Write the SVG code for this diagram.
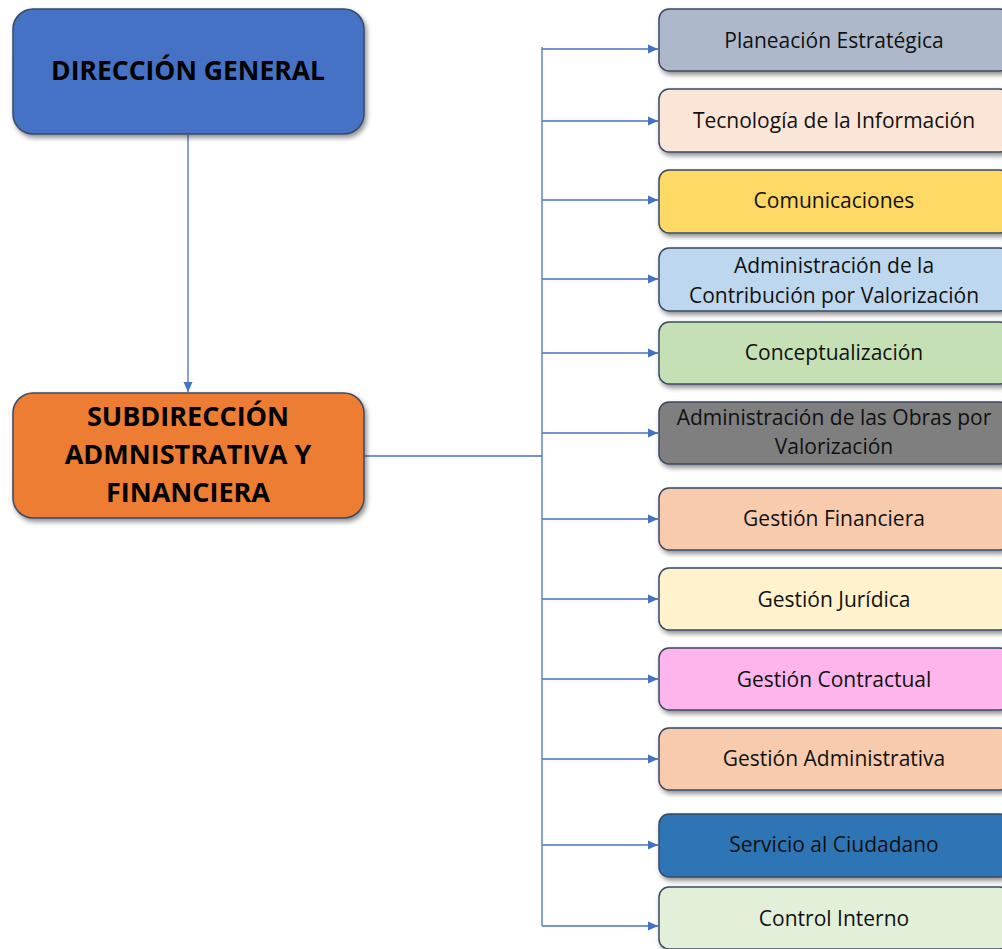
<svg xmlns="http://www.w3.org/2000/svg" width="1002" height="949" viewBox="0 0 1002 949">
<defs>
<filter id="sh" x="-10%" y="-20%" width="130%" height="150%">
<feDropShadow dx="2" dy="3" stdDeviation="2.5" flood-color="#000" flood-opacity="0.45"/>
</filter>
<marker id="ar" markerWidth="11" markerHeight="11" refX="10" refY="5.5" orient="auto" markerUnits="userSpaceOnUse">
<path d="M0,1 L10,5.5 L0,10 Z" fill="#4472C4"/>
</marker>
</defs>
<style>
.bx{stroke:#3A4A63;stroke-width:1.5;filter:url(#sh)}
.t{font-family:"Open Sans","Noto Sans",sans-serif;font-size:21px;fill:#111;text-anchor:middle}
.tb{font-family:"Open Sans","Noto Sans",sans-serif;font-size:27px;font-weight:bold;fill:#000;text-anchor:middle}
.c{stroke:#4472C4;stroke-width:1.3;fill:none}
</style>
<g id="connectors">
<line class="c" x1="188" y1="135" x2="188" y2="392" marker-end="url(#ar)"/>
<line class="c" x1="365" y1="456" x2="542" y2="456"/>
<line class="c" x1="542" y1="47" x2="542" y2="926"/>
<line class="c" x1="542" y1="49" x2="658" y2="49" marker-end="url(#ar)"/>
<line class="c" x1="542" y1="121" x2="658" y2="121" marker-end="url(#ar)"/>
<line class="c" x1="542" y1="200" x2="658" y2="200" marker-end="url(#ar)"/>
<line class="c" x1="542" y1="279" x2="658" y2="279" marker-end="url(#ar)"/>
<line class="c" x1="542" y1="353" x2="658" y2="353" marker-end="url(#ar)"/>
<line class="c" x1="542" y1="433" x2="658" y2="433" marker-end="url(#ar)"/>
<line class="c" x1="542" y1="519" x2="658" y2="519" marker-end="url(#ar)"/>
<line class="c" x1="542" y1="599" x2="658" y2="599" marker-end="url(#ar)"/>
<line class="c" x1="542" y1="679" x2="658" y2="679" marker-end="url(#ar)"/>
<line class="c" x1="542" y1="759" x2="658" y2="759" marker-end="url(#ar)"/>
<line class="c" x1="542" y1="845" x2="658" y2="845" marker-end="url(#ar)"/>
<line class="c" x1="542" y1="926" x2="658" y2="926" marker-end="url(#ar)"/>
</g>
<g id="direccion-general">
<rect class="bx" x="13" y="9" width="351" height="125" rx="20" fill="#4472C4"/>
<text class="tb" x="188" y="80" style="font-size:26.5px">DIRECCIÓN GENERAL</text>
</g>
<g id="subdireccion">
<rect class="bx" x="13" y="393" width="351" height="125" rx="20" fill="#ED7D31"/>
<text class="tb" x="188" y="426">SUBDIRECCIÓN</text>
<text class="tb" x="188" y="464">ADMNISTRATIVA Y</text>
<text class="tb" x="188" y="502">FINANCIERA</text>
</g>
<g id="planeacion">
<rect class="bx" x="659" y="9" width="351" height="62" rx="10" fill="#ADB9CA"/>
<text class="t" x="834" y="48">Planeación Estratégica</text>
</g>
<g id="tecnologia">
<rect class="bx" x="659" y="89" width="351" height="63" rx="10" fill="#FBE5D6"/>
<text class="t" x="834" y="128">Tecnología de la Información</text>
</g>
<g id="comunicaciones">
<rect class="bx" x="659" y="170" width="351" height="63" rx="10" fill="#FFD966"/>
<text class="t" x="834" y="208">Comunicaciones</text>
</g>
<g id="contribucion">
<rect class="bx" x="659" y="248" width="351" height="63" rx="10" fill="#BDD7EE"/>
<text class="t" x="834" y="273">Administración de la</text>
<text class="t" x="834" y="303">Contribución por Valorización</text>
</g>
<g id="conceptualizacion">
<rect class="bx" x="659" y="322" width="351" height="62" rx="10" fill="#C5E0B4"/>
<text class="t" x="834" y="360">Conceptualización</text>
</g>
<g id="obras">
<rect class="bx" x="659" y="402" width="351" height="62" rx="10" fill="#7F7F7F"/>
<text class="t" x="834" y="425">Administración de las Obras por</text>
<text class="t" x="834" y="454">Valorización</text>
</g>
<g id="financiera">
<rect class="bx" x="659" y="488" width="351" height="62" rx="10" fill="#F8CBAD"/>
<text class="t" x="834" y="526">Gestión Financiera</text>
</g>
<g id="juridica">
<rect class="bx" x="659" y="568" width="351" height="62" rx="10" fill="#FFF2CC"/>
<text class="t" x="834" y="607">Gestión Jurídica</text>
</g>
<g id="contractual">
<rect class="bx" x="659" y="648" width="351" height="62" rx="10" fill="#FEB5EC"/>
<text class="t" x="834" y="687">Gestión Contractual</text>
</g>
<g id="administrativa">
<rect class="bx" x="659" y="728" width="351" height="62" rx="10" fill="#F8CBAD"/>
<text class="t" x="834" y="766">Gestión Administrativa</text>
</g>
<g id="servicio">
<rect class="bx" x="659" y="814" width="351" height="63" rx="10" fill="#2E75B6"/>
<text class="t" x="834" y="852">Servicio al Ciudadano</text>
</g>
<g id="control">
<rect class="bx" x="659" y="887" width="351" height="62" rx="10" fill="#E2F0D9"/>
<text class="t" x="834" y="926">Control Interno</text>
</g>
</svg>
